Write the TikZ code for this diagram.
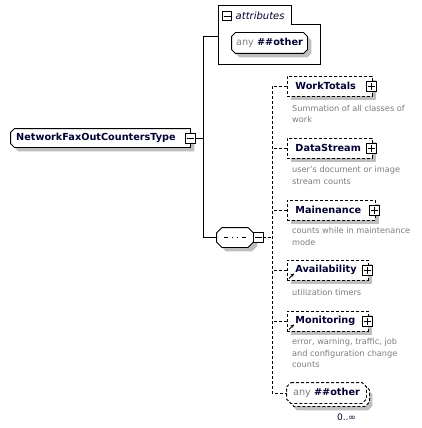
\documentclass[tikz,border=0pt]{standalone}
\usepackage{fontspec}
\setmainfont{DejaVu Sans}
\usetikzlibrary{shadows,arrows.meta,calc}
\definecolor{ink}{HTML}{000033}
\definecolor{shade}{HTML}{BEBEBE}
\definecolor{descgray}{HTML}{7C7C7C}
\makeatletter
\newdimen\bvL \newdimen\bvR \newdimen\bvB \newdimen\bvT
\newdimen\bvLx \newdimen\bvRx \newdimen\bvBl \newdimen\bvTl \newdimen\bvBr \newdimen\bvTr
\pgfkeys{/pgf/bevel left/.initial=4pt, /pgf/bevel right/.initial=4pt}
\pgfdeclareshape{bevelbox}{%
  \inheritsavedanchors[from=rectangle]%
  \inheritanchorborder[from=rectangle]%
  \inheritanchor[from=rectangle]{center}%
  \inheritanchor[from=rectangle]{north}%
  \inheritanchor[from=rectangle]{south}%
  \inheritanchor[from=rectangle]{east}%
  \inheritanchor[from=rectangle]{west}%
  \inheritanchor[from=rectangle]{north east}%
  \inheritanchor[from=rectangle]{north west}%
  \inheritanchor[from=rectangle]{south east}%
  \inheritanchor[from=rectangle]{south west}%
  \inheritanchor[from=rectangle]{base}%
  \inheritanchor[from=rectangle]{mid}%
  \inheritanchor[from=rectangle]{text}%
  \saveddimen{\bevl}{\pgfmathsetlength\pgf@x{\pgfkeysvalueof{/pgf/bevel left}}}%
  \saveddimen{\bevr}{\pgfmathsetlength\pgf@x{\pgfkeysvalueof{/pgf/bevel right}}}%
  \backgroundpath{%
    \southwest \bvL=\pgf@x \bvB=\pgf@y
    \northeast \bvR=\pgf@x \bvT=\pgf@y
    \bvLx=\bvL \advance\bvLx by \bevl
    \bvRx=\bvR \advance\bvRx by -\bevr
    \bvBl=\bvB \advance\bvBl by \bevl
    \bvTl=\bvT \advance\bvTl by -\bevl
    \bvBr=\bvB \advance\bvBr by \bevr
    \bvTr=\bvT \advance\bvTr by -\bevr
    \pgfpathmoveto{\pgfqpoint{\bvLx}{\bvT}}%
    \pgfpathlineto{\pgfqpoint{\bvRx}{\bvT}}%
    \pgfpathlineto{\pgfqpoint{\bvR}{\bvTr}}%
    \pgfpathlineto{\pgfqpoint{\bvR}{\bvBr}}%
    \pgfpathlineto{\pgfqpoint{\bvRx}{\bvB}}%
    \pgfpathlineto{\pgfqpoint{\bvLx}{\bvB}}%
    \pgfpathlineto{\pgfqpoint{\bvL}{\bvBl}}%
    \pgfpathlineto{\pgfqpoint{\bvL}{\bvTl}}%
    \pgfpathclose
  }%
}
\makeatother
\tikzset{
 lw/.style={line width=0.9pt},
 dsh/.style={dash pattern=on 3pt off 2pt},
 shd/.style={drop shadow={shadow xshift=4pt,shadow yshift=-4pt,fill=shade,opacity=1}},
 namefont/.style={font=\fontsize{9.7}{11}\selectfont\bfseries, text=ink},
 elem/.style={draw, lw, dsh, fill=white, shd, namefont, anchor=west, minimum height=20pt, inner xsep=8pt, inner ysep=0pt, text width=#1, align=left},
 bev/.style={shape=bevelbox, /pgf/bevel left=#1, /pgf/bevel right=#1},
 xbox/.style={draw, solid, lw, fill=white, minimum size=10pt, inner sep=0pt},
 pbox/.style={xbox, path picture={\draw[lw] ([xshift=-3.5pt]path picture bounding box.center) -- ([xshift=3.5pt]path picture bounding box.center) ([yshift=-3.5pt]path picture bounding box.center) -- ([yshift=3.5pt]path picture bounding box.center);}},
 mbox/.style={xbox, path picture={\draw[lw] ([xshift=-3.5pt]path picture bounding box.center) -- ([xshift=3.5pt]path picture bounding box.center);}},
 descr/.style={anchor=north west, inner sep=0pt, align=left, text=descgray, font=\fontsize{8.2}{11.3}\selectfont},
 refarrow/.style={-{Stealth[length=3.5pt,width=3.5pt]}, line width=1pt, solid},
}
\begin{document}
\begin{tikzpicture}[x=1pt,y=-1pt]
\useasboundingbox (0,0) rectangle (421,428);

% root
\node[shape=bevelbox, /pgf/bevel left=4pt, /pgf/bevel right=0pt, draw, lw, fill=white, shd, namefont, minimum width=179pt, minimum height=18pt, inner sep=0pt] (root) at (100.5,138) {NetworkFaxOutCountersType\hspace*{9pt}};
\node[mbox] (rootx) at (190,138) {};

% attributes container
\draw[lw, fill=white] (218,5) -- (291,5) -- (291,24) -- (320,24) -- (320,64) -- (218,64) -- cycle;
\coordinate (attrW) at (218,36);
\node[mbox, minimum size=9pt] (attrx) at (227,16) {};
\node[anchor=west, inner sep=0pt, font=\fontsize{10}{12}\selectfont\itshape, text=ink] (attrt) at (235.5,16) {attributes};
\node[bev=4pt, draw, lw, fill=white, shd, minimum width=75pt, minimum height=20pt, inner sep=0pt, font=\fontsize{9.7}{11}\selectfont] (aany) at (269.5,43) {{\color{descgray}any} {\bfseries\color{ink}\#\#other}};

% sequence
\node[bev=5.5pt, draw, lw, fill=white, shd, minimum width=36pt, minimum height=19pt, inner sep=0pt,
  path picture={\draw[lw] ([xshift=-11pt]path picture bounding box.center) -- ([xshift=11pt]path picture bounding box.center);
   \foreach \d in {-5,0,5}{\fill ([xshift=\d pt-1.6pt,yshift=-1.6pt]path picture bounding box.center) rectangle ++(3.2pt,3.2pt);}}] (seq) at (235,237.5) {};
\node[mbox] (seqx) at (258,237.5) {};

% bus lines
\coordinate (bus) at (203,138);
\draw[lw] (rootx.east) -- (bus);
\draw[lw] (attrW) -- (attrW -| bus) -- (seq.west -| bus) -- (seq.west);

% children
\node[elem=69pt] (wt) at (287,86) {WorkTotals};
\node[pbox] (wtx) at (371,86) {};
\node[descr] (wtd) at (292,105) {Summation of all classes of\\work};

\node[elem=69pt] (ds) at (287,148) {DataStream};
\node[pbox] (dsx) at (371,148) {};
\node[descr] (dsd) at (292,166.5) {user's document or image\\stream counts};

\node[elem=72pt] (mn) at (287,210) {Mainenance};
\node[pbox] (mnx) at (374,210) {};
\node[descr] (mnd) at (292,227.5) {counts while in maintenance\\mode};

\node[elem=65pt] (av) at (287,270) {Availability};
\node[pbox] (avx) at (367,270) {};
\draw[refarrow] ($(av.south west)+(2,-2)$) -- +(5,-5);
\node[descr] (avd) at (292,289) {utilization timers};

\node[elem=65pt] (mo) at (287,321) {Monitoring};
\node[pbox] (mox) at (367,321) {};
\draw[refarrow] ($(mo.south west)+(2,-2)$) -- +(5,-5);
\node[descr] (mod) at (292,338.5) {error, warning, traffic, job\\and configuration change\\counts};

\node[bev=4.5pt, draw, lw, dsh, fill=white,
  drop shadow={shadow xshift=6pt, shadow yshift=-7pt, fill=shade, opacity=1},
  copy shadow={shadow xshift=3pt, shadow yshift=-3pt, lw, dsh, draw, fill=white},
  minimum width=79pt, minimum height=20pt, inner sep=0pt, font=\fontsize{9.7}{11}\selectfont] (cany) at (326.5,393) {{\color{descgray}any} {\bfseries\color{ink}\#\#other}};
\node[font=\fontsize{9}{10}\selectfont, text=ink, inner sep=0pt] (card) at (346.5,417) {0..∞};

% dashed connectors
\coordinate (cbus) at (272,237.5);
\draw[lw,dsh] (seqx.east) -- (cbus);
\draw[lw,dsh] (wt.west) -- (wt.west -| cbus) -- (cany.west -| cbus) -- (cany.west);
\foreach \n in {ds,mn,av,mo}{\draw[lw,dsh] (\n.west) -- (\n.west -| cbus);}
\end{tikzpicture}
\end{document}
